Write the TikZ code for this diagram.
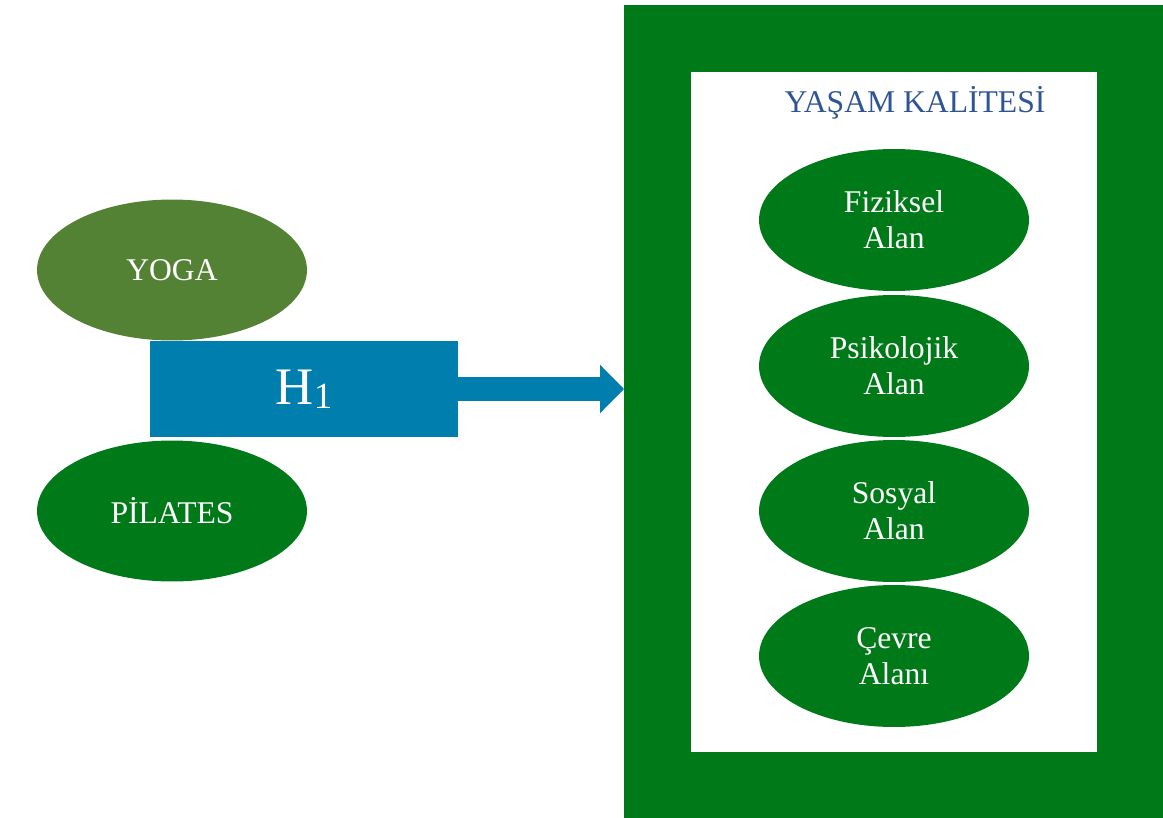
\documentclass[tikz,border=0pt]{standalone}
\usepackage{fontspec}
\setmainfont{Liberation Serif}
\usetikzlibrary{shapes.geometric,arrows.meta}
\definecolor{frameGreen}{RGB}{0,122,25}
\definecolor{yogaGreen}{RGB}{84,130,53}
\definecolor{hypBlue}{RGB}{0,127,174}
\definecolor{titleBlue}{RGB}{47,85,151}
\tikzstyle{areaStyle}=[shape = ellipse, minimum width = 5.4cm, minimum height = 2.84cm, inner sep = 0pt, fill = frameGreen, text = white, align = center, font = \fontsize{18}{20.5}\selectfont]
\tikzstyle{sportStyle}=[shape = ellipse, minimum width = 5.4cm, minimum height = 2.82cm, inner sep = 0pt, text = white, font = \fontsize{18}{20.5}\selectfont]

\begin{document}
\begin{tikzpicture}[x = 0.02cm, y = -0.02cm]
\tikzstyle{hypStyle}=[shape = rectangle, fill = hypBlue, text = white, minimum width = 6.16cm, minimum height = 1.92cm, inner sep = 0pt, font = \fontsize{30}{30}\selectfont]
\tikzstyle{arrowStyle}=[draw = hypBlue, line width = 0.48cm, -{Triangle[length = 0.48cm, width = 0.94cm]}]
\useasboundingbox (0,0) rectangle (1163,818);
% outcome side
\node[draw = frameGreen, line width = 1.34cm, minimum width = 9.46cm, minimum height = 14.93cm] (frame) at (894,412) {};
\node[text = titleBlue, font = \fontsize{18}{20}\selectfont] (title) at (915,103) {YAŞAM KALİTESİ};
\node[areaStyle] (a1) at (894,220) {Fiziksel\\Alan};
\node[areaStyle] (a2) at (894,366) {Psikolojik\\Alan};
\node[areaStyle] (a3) at (894,511) {Sosyal\\Alan};
\node[areaStyle] (a4) at (894,656) {Çevre\\Alanı};
% predictor side
\node[sportStyle, fill = yogaGreen] (yoga) at (172,270) {YOGA};
\node[sportStyle, fill = frameGreen] (pilates) at (172,511) {PİLATES};
\node[hypStyle] (h1) at (304,389) {H\raisebox{-2pt}{\fontsize{21}{21}\selectfont 1}};
\draw[arrowStyle] (h1.east) -- (h1.east -| frame.west);
\end{tikzpicture}
\end{document}
